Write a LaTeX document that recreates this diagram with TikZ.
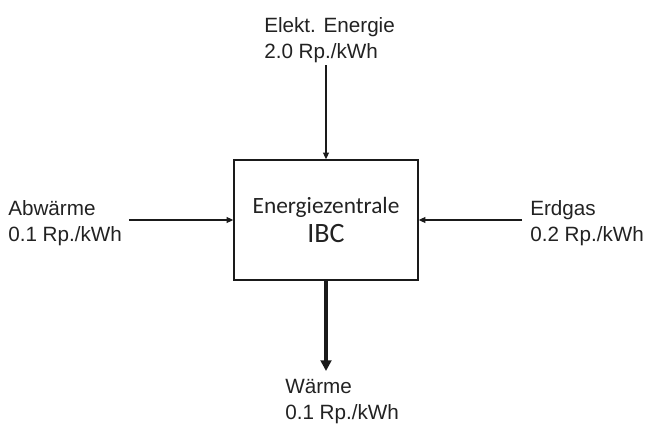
\documentclass[tikz,border=0pt]{standalone}
\usepackage{fontspec}
\setmainfont{Liberation Sans}
\newfontfamily\boxfont{Carlito}
\usetikzlibrary{arrows.meta, positioning}
\definecolor{ink}{HTML}{1A1A1A}
\definecolor{txt}{HTML}{222222}
\tikzset{lbl/.style={inner sep=0pt, anchor=north west, align=left, text=txt, font=\fontsize{15.5}{19.5}\selectfont},
  pfeil/.style={ink, line width=1pt, -{Triangle[length=5pt, width=4.5pt]}},
  hauptpfeil/.style={ink, line width=2.4pt, -{Triangle[length=8pt, width=8pt]}}}

\begin{document}
\begin{tikzpicture}[x=0.75pt, y=-0.75pt]
  \useasboundingbox (0,0) rectangle (650,424);
  \node[draw=ink, line width=1.2pt, minimum width=138pt, minimum height=90pt, align=center,
        font=\boxfont\fontsize{17.5}{21.75}\selectfont, text=txt] (zentrale) at (326,220)
        {Energiezentrale\\{\fontsize{21}{21.75}\selectfont IBC}};
  \node[lbl] (strom) at (264,17) {Elekt. Energie\\2.0 Rp./kWh};
  \node[lbl] (abw) at (8,200) {Abwärme\\0.1 Rp./kWh};
  \node[lbl] (gas) at (530,200) {Erdgas\\0.2 Rp./kWh};
  \node[lbl] (waerme) at (285,379) {Wärme\\0.1 Rp./kWh};
  % Zufluesse
  \draw[pfeil] ([yshift=-2pt]zentrale.north |- strom.south) -- (zentrale.north);
  \draw[pfeil] ([xshift=5pt]abw.east |- zentrale.west) -- (zentrale.west);
  \draw[pfeil] ([xshift=-6pt]gas.west |- zentrale.east) -- (zentrale.east);
  % Abfluss
  \draw[hauptpfeil] (zentrale.south) -- ([yshift=6pt]zentrale.south |- waerme.north);
\end{tikzpicture}
\end{document}
